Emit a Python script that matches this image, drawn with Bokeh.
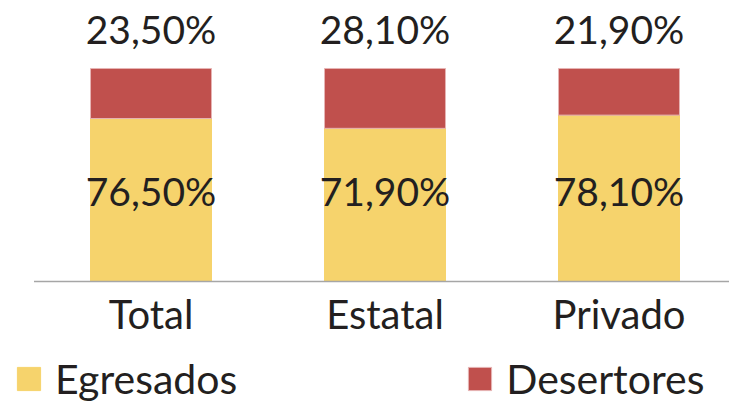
from bokeh.plotting import figure
from bokeh.models import ColumnDataSource, Range1d, Legend, LegendItem
from bokeh.core.properties import value
from bokeh.embed import file_html
from bokeh.resources import INLINE

categories = ["Total", "Estatal", "Privado"]
egresados = [76.5, 71.9, 78.1]
desertores = [23.5, 28.1, 21.9]

def fmt(v):
    return ("%.2f" % v).replace(".", ",") + "%"

FONT = "Lato"
TXT = "#231F20"
YEL = "#F6D36C"
RED = "#C0504D"

xs = list(range(len(categories)))
n = len(xs)
src = ColumnDataSource(dict(
    x=xs,
    cat=categories,
    egr=egresados,
    des=desertores,
    top=[e + d for e, d in zip(egresados, desertores)],
    egr_lbl=[fmt(v) for v in egresados],
    des_lbl=[fmt(v) for v in desertores],
    in_y=[42.7] * n,
    top_y=[118.5] * n,
    cat_y=[-15.4] * n,
))

x_range = Range1d(-0.6432, 2.4722)
p = figure(width=729, height=406, output_backend="svg", toolbar_location=None,
           x_range=x_range, y_range=Range1d(-58.69, 131.92),
           min_border_left=0, min_border_right=0, min_border_top=0, min_border_bottom=0,
           outline_line_color=None, background_fill_color="white", border_fill_color="white")
p.xaxis.visible = False
p.yaxis.visible = False
p.xgrid.visible = False
p.ygrid.visible = False

r_egr = p.vbar(x="x", width=0.517, bottom=0, top="egr", source=src,
               fill_color=YEL, line_color=YEL, line_width=1)
r_des = p.vbar(x="x", width=0.517, bottom="egr", top="top", source=src,
               fill_color=RED, line_color="#E6B4B4", line_width=1)

# category baseline, starting half a category before the first bar
p.segment(x0=[xs[0] - 0.5], y0=[0], x1=[x_range.end], y1=[0],
          line_color="#A6A6A6", line_width=1.5)

p.text(x="x", y="in_y", text="egr_lbl", source=src, text_align="center",
       text_baseline="middle", text_font=value(FONT), text_font_size="39px", text_color=TXT)
p.text(x="x", y="top_y", text="des_lbl", source=src, text_align="center",
       text_baseline="middle", text_font=value(FONT), text_font_size="39px", text_color=TXT)
p.text(x="x", y="cat_y", text="cat", source=src, text_align="center",
       text_baseline="alphabetic", text_font=value(FONT), text_font_size="40px", text_color=TXT)

legend = Legend(items=[LegendItem(label="Egresados", renderers=[r_egr]),
                       LegendItem(label="Desertores", renderers=[r_des])],
                orientation="horizontal", location=(14, 3),
                label_text_font=FONT, label_text_font_size="41px", label_text_color=TXT,
                glyph_width=29, glyph_height=29, label_standoff=12, spacing=228,
                padding=0, margin=0, border_line_color=None, background_fill_alpha=0)
p.add_layout(legend)

open("out.html", "w").write(file_html(p, INLINE))
